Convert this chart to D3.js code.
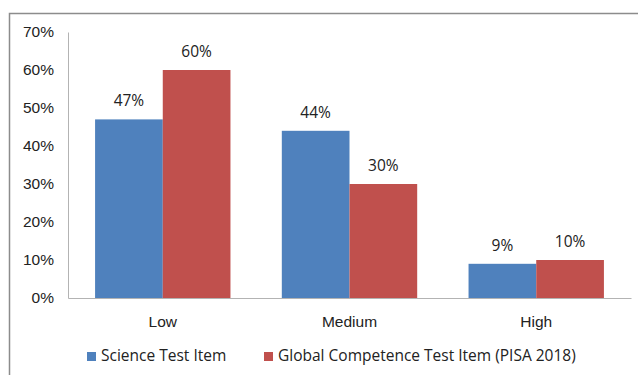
<!DOCTYPE html>
<html>
<head>
<meta charset="utf-8">
<script src="https://cdn.jsdelivr.net/npm/d3@7"></script>
<style>
  html, body { margin: 0; padding: 0; background: #fff; }
  svg { display: block; font-family: "Open Sans", "Liberation Sans", sans-serif; }
</style>
</head>
<body>
<svg id="chart" width="638" height="375"></svg>
<script>
// Share of items at each level, by test type
const categories = ["Low", "Medium", "High"];
const seriesNames = ["Science Test Item", "Global Competence Test Item (PISA 2018)"];
const scienceValues = [47, 44, 9];
const globalValues = [60, 30, 10];
const yTicks = [0, 10, 20, 30, 40, 50, 60, 70];
const colors = ["#4f81bd", "#c0504d"];

const svg = d3.select("#chart");
const W = 638, H = 375;
const margin = { left: 68, right: 7, top: 32, bottom: 77 };
const plotW = W - margin.left - margin.right;
const plotH = H - margin.top - margin.bottom;
const fs = 15.5;

// Outer frame of the chart area
svg.append("rect")
  .attr("x", 9.5).attr("y", 13.5)
  .attr("width", 640).attr("height", 380)
  .attr("fill", "none").attr("stroke", "#8c8c8c").attr("stroke-width", 1.5);

const g = svg.append("g").attr("transform", `translate(${margin.left},${margin.top})`);

const x0 = d3.scaleBand().domain(categories).range([0, plotW]).paddingInner(0.275).paddingOuter(0.145);
const x1 = d3.scaleBand().domain([0, 1]).range([0, x0.bandwidth()]);
const y = d3.scaleLinear().domain([0, 70]).range([plotH, 0]);

// Y axis
const yAxis = d3.axisLeft(y).tickValues(yTicks).tickFormat(d => d + "%").tickSize(0).tickPadding(14);
const ya = g.append("g").call(yAxis);
ya.select(".domain").attr("stroke", "#b3b3b3");
ya.selectAll("text").attr("font-size", fs).attr("fill", "#222");

// Bars
const rows = categories.map((c, i) => ({ cat: c, vals: [scienceValues[i], globalValues[i]] }));
const grp = g.selectAll(".cat").data(rows).join("g")
  .attr("transform", d => `translate(${x0(d.cat)},0)`);

grp.selectAll("rect").data(d => d.vals.map((v, k) => ({ v, k }))).join("rect")
  .attr("x", d => x1(d.k))
  .attr("width", x1.bandwidth())
  .attr("y", d => y(d.v))
  .attr("height", d => plotH - y(d.v))
  .attr("fill", d => colors[d.k]);

grp.selectAll("text.val").data(d => d.vals.map((v, k) => ({ v, k }))).join("text")
  .attr("class", "val")
  .attr("x", d => x1(d.k) + x1.bandwidth() / 2)
  .attr("y", d => y(d.v) - 13)
  .attr("text-anchor", "middle")
  .attr("font-size", fs).attr("fill", "#222")
  .text(d => d.v + "%");

// X axis baseline and labels
const xa = g.append("g").attr("transform", `translate(0,${plotH})`)
  .call(d3.axisBottom(x0).tickSize(0).tickPadding(18));
xa.select(".domain").attr("stroke", "#b3b3b3");
xa.selectAll("text").attr("font-size", fs).attr("fill", "#222");

// Legend
const legend = svg.append("g").attr("transform", "translate(0,356)");
const legendItems = [{ x: 87, name: seriesNames[0], c: colors[0] }, { x: 264, name: seriesNames[1], c: colors[1] }];
legendItems.forEach(it => {
  legend.append("rect").attr("x", it.x).attr("y", -4).attr("width", 9).attr("height", 9).attr("fill", it.c);
  legend.append("text").attr("x", it.x + 14).attr("y", 0).attr("dy", "0.35em")
    .attr("font-size", fs).attr("fill", "#222").text(it.name);
});
</script>
</body>
</html>
